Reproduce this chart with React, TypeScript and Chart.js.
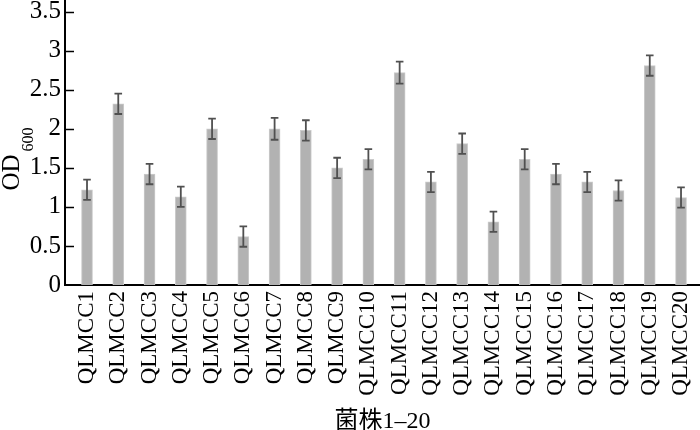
import React, { useEffect, useRef } from "react";
import { Chart, registerables } from "chart.js";

Chart.register(...registerables);

const categories = [
  "QLMCC1", "QLMCC2", "QLMCC3", "QLMCC4", "QLMCC5", "QLMCC6", "QLMCC7", "QLMCC8", "QLMCC9", "QLMCC10",
  "QLMCC11", "QLMCC12", "QLMCC13", "QLMCC14", "QLMCC15", "QLMCC16", "QLMCC17", "QLMCC18", "QLMCC19", "QLMCC20",
];
const values = [1.22, 2.32, 1.42, 1.13, 2.0, 0.62, 2.0, 1.98, 1.5, 1.61, 2.72, 1.32, 1.81, 0.81, 1.61, 1.42, 1.32, 1.21, 2.81, 1.12];
const errors = [0.13, 0.13, 0.13, 0.13, 0.13, 0.13, 0.14, 0.13, 0.13, 0.13, 0.14, 0.13, 0.13, 0.13, 0.13, 0.13, 0.13, 0.13, 0.13, 0.13];
const yTicks = [0, 0.5, 1, 1.5, 2, 2.5, 3, 3.5];
const yTitleMain = "OD";
const yTitleSub = "600";
const xTitle = "菌株1–20";

const SERIF = "'Liberation Serif', 'Times New Roman', 'Noto Sans CJK SC', serif";

const errorBarPlugin = {
  id: "errorBars",
  afterDatasetsDraw(chart: any) {
    const ctx = chart.ctx;
    const yScale = chart.scales.y;
    const meta = chart.getDatasetMeta(0);
    ctx.save();
    ctx.strokeStyle = "#505050";
    ctx.lineWidth = 1.8;
    meta.data.forEach((bar: any, i: number) => {
      const x = bar.x;
      const top = yScale.getPixelForValue(values[i] + errors[i]);
      const bot = yScale.getPixelForValue(values[i] - errors[i]);
      const cap = 3.8;
      ctx.beginPath();
      ctx.moveTo(x, top);
      ctx.lineTo(x, bot);
      ctx.moveTo(x - cap, top);
      ctx.lineTo(x + cap, top);
      ctx.moveTo(x - cap, bot);
      ctx.lineTo(x + cap, bot);
      ctx.stroke();
    });
    ctx.restore();
  },
  afterDraw(chart: any) {
    const ctx = chart.ctx;
    const yScale = chart.scales.y;
    const left = chart.chartArea.left;
    ctx.save();
    ctx.strokeStyle = "#000";
    ctx.lineWidth = 1.5;
    yTicks.forEach((t) => {
      if (t === 0) return;
      const py = Math.round(yScale.getPixelForValue(t)) + 0.5;
      ctx.beginPath();
      ctx.moveTo(left, py);
      ctx.lineTo(left + 9, py);
      ctx.stroke();
    });
    const cy = (chart.chartArea.top + chart.chartArea.bottom) / 2;
    ctx.translate(18.5, cy + 48);
    ctx.rotate(-Math.PI / 2);
    ctx.fillStyle = "#000";
    ctx.textAlign = "left";
    ctx.textBaseline = "alphabetic";
    ctx.font = `25px ${SERIF}`;
    ctx.fillText(yTitleMain, 0, 0);
    const w = ctx.measureText(yTitleMain).width;
    ctx.font = `16px ${SERIF}`;
    ctx.fillText(yTitleSub, w + 3, 14);
    ctx.restore();
  },
};

export default function App() {
  const canvasRef = useRef<HTMLCanvasElement | null>(null);

  useEffect(() => {
    document.body.style.margin = "0";
    const canvas = canvasRef.current;
    if (!canvas) return;
    const chart = new Chart(canvas, {
      type: "bar",
      data: {
        datasets: [
          {
            data: values.map((v, i) => ({ x: i + 1, y: v })),
            backgroundColor: "#b2b2b2",
            borderColor: "#cbcbcb",
            borderWidth: 1,
            barThickness: 11,
          },
        ],
      },
      options: {
        animation: false,
        responsive: true,
        maintainAspectRatio: false,
        layout: { padding: 0 },
        plugins: { legend: { display: false }, tooltip: { enabled: false } },
        scales: {
          x: {
            type: "linear",
            offset: false,
            min: 0.296,
            max: 20.607,
            grid: { display: false, drawTicks: false, offset: false },
            border: { display: true, color: "#000", width: 2 },
            afterBuildTicks: (scale: any) => {
              scale.ticks = categories.map((_, i) => ({ value: i + 1 }));
            },
            afterFit: (scale: any) => {
              scale.height = 145;
              scale.paddingLeft = 0;
              scale.paddingRight = 0;
            },
            ticks: {
              autoSkip: false,
              maxRotation: 90,
              minRotation: 90,
              padding: 6,
              color: "#000",
              font: { family: SERIF, size: 23 },
              callback: (v: any) => categories[Math.round(Number(v)) - 1] ?? "",
            },
            title: {
              display: true,
              text: xTitle,
              color: "#000",
              font: { family: SERIF, size: 24, lineHeight: 1 },
              padding: { top: 0, bottom: -4 },
            },
          },
          y: {
            type: "linear",
            min: 0,
            max: 3.65,
            grid: { display: false, drawTicks: false },
            border: { display: true, color: "#000", width: 2 },
            afterBuildTicks: (scale: any) => {
              scale.ticks = yTicks.map((v) => ({ value: v }));
            },
            afterFit: (scale: any) => {
              scale.width = 65;
              scale.paddingTop = 0;
              scale.paddingBottom = 0;
            },
            ticks: {
              padding: 4,
              color: "#000",
              font: { family: SERIF, size: 25 },
              callback: (v: any) => String(v),
            },
          },
        },
      },
      plugins: [errorBarPlugin],
    } as any);
    return () => chart.destroy();
  }, []);

  return (
    <div style={{ position: "fixed", left: 0, top: 0, width: 700, height: 430 }}>
      <canvas ref={canvasRef} />
    </div>
  );
}
